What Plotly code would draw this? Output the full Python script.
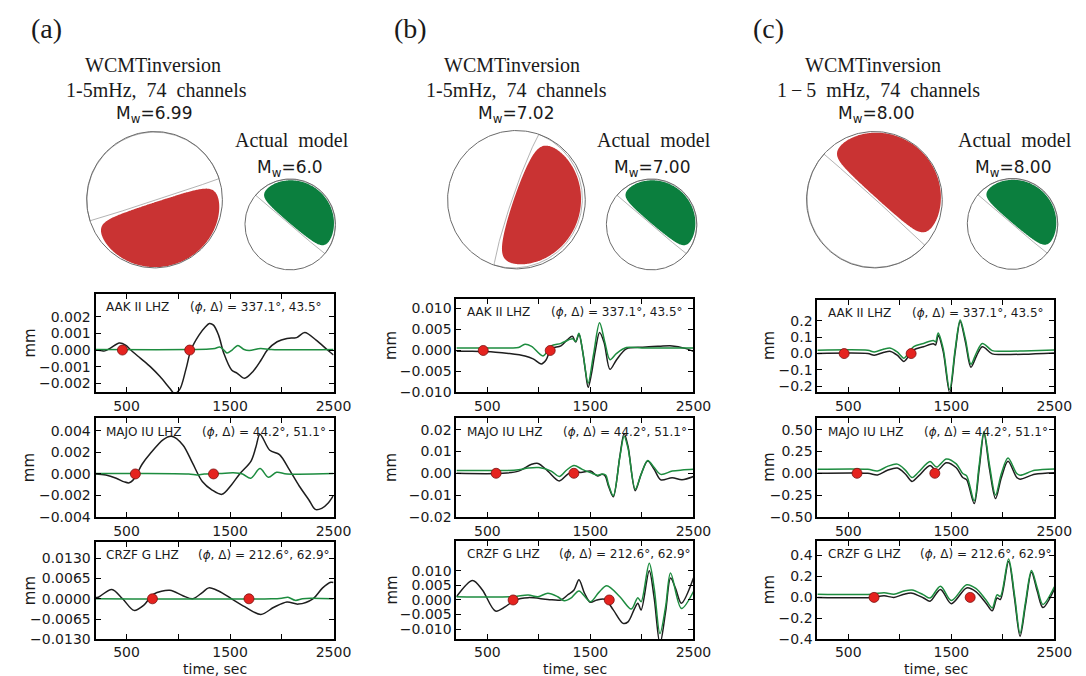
import numpy as np
import plotly.graph_objects as go

# ======================= DATA =======================
# time axis ticks
x_tickvals = [500, 1500, 2500]
x_minor_tickvals = [1000, 2000]

# stations (rows)
stations = ["AAK II LHZ", "MAJO IU LHZ", "CRZF G LHZ"]
azimuths = [337.1, 44.2, 212.6]
distances = [43.5, 51.1, 62.9]

# picks (red dots), per row
pick_times = [[460, 1110], [585, 1340], [750, 1683]]
pick_vals = [[0.0, 0.0], [0.0, 0.0], [0.0, 0.0]]

# ---- column (a) ----
t_a1_obs = [200, 250, 290, 340, 430, 490, 541, 635, 729, 823, 917, 960, 1011, 1074, 1122, 1200, 1263, 1300, 1340, 1389, 1440, 1515, 1570, 1641, 1720, 1800, 1861, 1955, 2050, 2144, 2222, 2332, 2442, 2500]
v_a1_obs = [0.0, -0.00003, -0.00005, 0.0001, 0.00042, 0.0003, 0.0, -0.0005, -0.001, -0.0016, -0.0023, -0.0026, -0.0024, -0.00115, 0.0, 0.0009, 0.0014, 0.0016, 0.0015, 0.0009, -0.0002, -0.0012, -0.0014, -0.0017, -0.0013, -0.0006, 0.0, 0.0005, 0.0007, 0.00075, 0.00105, 0.0006, 0.0, -0.0003]
t_a1_syn = [200, 1100, 1300, 1354, 1400, 1440, 1470, 1520, 1575, 1630, 1685, 1795, 1900, 2500]
v_a1_syn = [0.00003, 0.00003, 0.00006, 0.0001, 0.00018, 0.0, -0.00018, 0.0, 0.00028, 0.00005, -0.00003, 0.0001, 0.00003, 0.00003]

t_a2_obs = [200, 300, 400, 478, 525, 560, 600, 650, 729, 855, 934, 1044, 1138, 1232, 1327, 1421, 1515, 1593, 1703, 1750, 1789, 1884, 1978, 2073, 2167, 2261, 2324, 2386, 2449, 2500]
v_a2_obs = [0.0, -0.0001, -0.0004, -0.00074, -0.00083, -0.0006, 0.0, 0.0009, 0.0019, 0.0032, 0.0035, 0.0027, 0.001, -0.0007, -0.0015, -0.0019, -0.001, 0.0, 0.0012, 0.0025, 0.0037, 0.0022, 0.0018, 0.0004, -0.0011, -0.0024, -0.0033, -0.0032, -0.0027, -0.002]
t_a2_syn = [200, 1100, 1180, 1250, 1400, 1530, 1620, 1700, 1790, 1870, 1950, 2050, 2500]
v_a2_syn = [0.00003, 0.0, -0.0001, 0.0, 0.00003, 0.0001, 0.0, -0.0004, 0.0005, -0.0003, 0.00015, 0.0, 0.00003]

t_a3_obs = [200, 227, 358, 462, 572, 667, 761, 918, 1044, 1138, 1232, 1295, 1389, 1515, 1641, 1798, 1924, 2050, 2160, 2301, 2395, 2474, 2500]
v_a3_obs = [0.0003, 0.0005, 0.003, 0.0, -0.0037, -0.002, 0.0015, 0.0027, 0.001, 0.0, 0.002, 0.0035, 0.0025, 0.0, -0.0025, -0.005, -0.0027, -0.001, -0.0017, 0.0, 0.0035, 0.0053, 0.0052]
t_a3_syn = [200, 1900, 2000, 2060, 2130, 2200, 2280, 2500]
v_a3_syn = [0.0, 0.0, 0.0002, 0.0005, -0.0005, 0.0, 0.0002, 0.0]

# ---- column (b) ----
t_b1_obs = [200, 357, 579, 706, 865, 944, 1024, 1071, 1119, 1214, 1278, 1325, 1357, 1389, 1421, 1452, 1478, 1510, 1548, 1589, 1633, 1690, 1754, 1849, 2008, 2167, 2294, 2420, 2500]
v_b1_obs = [-0.0002, -0.0002, -0.0004, -0.0007, -0.0013, -0.002, -0.0032, -0.0022, 0.0004, 0.0011, 0.0026, 0.0034, 0.002, 0.0039, 0.0004, -0.0049, -0.0088, -0.0056, 0.0, 0.0043, 0.0019, -0.0045, -0.0022, 0.0004, 0.0008, 0.001, 0.0011, 0.0005, -0.0002]
t_b1_syn = [200, 706, 802, 865, 929, 1040, 1119, 1214, 1325, 1357, 1389, 1430, 1478, 1530, 1589, 1640, 1690, 1754, 1849, 2000, 2500]
v_b1_syn = [0.0006, 0.0006, 0.0007, 0.0015, 0.001, -0.0013, 0.0011, 0.0017, 0.0028, 0.0022, 0.0041, -0.001, -0.0078, -0.001, 0.0066, 0.002, -0.0022, -0.0007, 0.0007, 0.0006, 0.0006]

t_b2_obs = [200, 650, 802, 929, 992, 1087, 1198, 1278, 1341, 1405, 1500, 1570, 1611, 1643, 1675, 1722, 1786, 1827, 1865, 1935, 1992, 2056, 2119, 2183, 2294, 2389, 2500]
v_b2_obs = [0.0, 0.0, 0.001, 0.0041, 0.0045, 0.001, -0.0035, -0.0005, 0.001, 0.0003, 0.001, -0.0012, -0.0005, -0.0012, -0.0058, -0.0108, 0.0079, 0.0182, 0.0124, -0.008, -0.0005, 0.0056, 0.0018, -0.003, -0.002, -0.003, -0.0015]
t_b2_syn = [200, 700, 802, 897, 1000, 1120, 1198, 1270, 1341, 1421, 1500, 1570, 1620, 1650, 1675, 1722, 1786, 1827, 1865, 1935, 1992, 2056, 2119, 2183, 2294, 2389, 2500]
v_b2_syn = [0.0013, 0.0013, 0.0016, 0.0024, 0.0026, 0.001, -0.0015, 0.0015, 0.0036, 0.0018, 0.0003, -0.0009, -0.0003, -0.0009, -0.005, -0.0103, 0.0075, 0.017, 0.0115, -0.0073, -0.0005, 0.0059, 0.0026, -0.0005, 0.001, 0.0015, 0.0018]

t_b3_obs = [200, 357, 452, 579, 675, 770, 897, 1087, 1214, 1278, 1341, 1389, 1443, 1500, 1563, 1643, 1722, 1817, 1865, 1929, 1960, 1992, 2071, 2119, 2175, 2230, 2278, 2326, 2383, 2500]
v_b3_obs = [0.0011, 0.0067, 0.0034, -0.0038, -0.0023, 0.0, 0.0008, 0.0002, 0.0, 0.0017, 0.0034, 0.0069, 0.0023, -0.0008, 0.0, 0.0002, -0.0034, -0.008, -0.0075, -0.0029, -0.0011, -0.0034, 0.01, 0.0006, -0.015, -0.004, 0.0075, 0.004, -0.0011, 0.0075]
t_b3_syn = [200, 738, 897, 992, 1087, 1183, 1246, 1310, 1389, 1500, 1580, 1659, 1786, 1897, 1960, 1992, 2071, 2119, 2175, 2230, 2278, 2383, 2500]
v_b3_syn = [0.0011, 0.0011, 0.0017, 0.0011, 0.0023, 0.0011, -0.0003, 0.0006, 0.0031, -0.0006, 0.0025, 0.0049, 0.0011, -0.0031, 0.0008, -0.0006, 0.0126, 0.004, -0.0115, -0.0023, 0.0092, -0.0029, 0.0029]

# ---- column (c) ----
t_c1 = [200, 689, 752, 848, 911, 975, 1040, 1087, 1135, 1230, 1325, 1347, 1373, 1421, 1484, 1538, 1586, 1637, 1690, 1744, 1801, 1897, 1992, 2200, 2500]
v_c1_obs = [0.0, 0.0, -0.01, 0.008, 0.013, -0.01, -0.048, -0.015, 0.023, 0.042, 0.06, 0.052, 0.11, 0.013, -0.24, 0.013, 0.196, 0.07, -0.083, -0.015, 0.042, -0.002, -0.006, -0.004, 0.004]
v_c1_syn = [0.02, 0.02, 0.01, 0.028, 0.033, 0.01, -0.028, 0.005, 0.043, 0.062, 0.08, 0.072, 0.125, 0.03, -0.22, 0.03, 0.205, 0.088, -0.065, 0.005, 0.062, 0.018, 0.014, 0.016, 0.022]

t_c2 = [200, 689, 784, 880, 976, 1056, 1119, 1183, 1294, 1357, 1452, 1548, 1611, 1649, 1722, 1770, 1817, 1871, 1929, 1986, 2050, 2135, 2167, 2310, 2500]
v_c2_obs = [0.0, 0.0, -0.019, 0.034, 0.06, -0.011, -0.093, -0.03, 0.09, 0.026, 0.12, 0.063, -0.048, -0.075, -0.347, 0.045, 0.455, 0.045, -0.29, -0.048, 0.138, -0.048, -0.067, -0.011, 0.007]
v_c2_syn = [0.045, 0.045, 0.026, 0.079, 0.105, 0.034, -0.048, 0.015, 0.135, 0.071, 0.165, 0.108, -0.003, -0.03, -0.315, 0.09, 0.48, 0.09, -0.25, -0.003, 0.175, -0.003, -0.022, 0.034, 0.05]

t_c3 = [200, 722, 848, 943, 1040, 1119, 1230, 1294, 1395, 1500, 1649, 1738, 1833, 1897, 1944, 1976, 2056, 2113, 2167, 2221, 2278, 2335, 2389, 2500]
v_c3_obs = [0.0, 0.0, 0.015, 0.0, 0.03, 0.04, -0.006, -0.036, 0.076, -0.06, 0.09, 0.055, -0.05, -0.127, -0.006, -0.02, 0.342, -0.006, -0.37, -0.067, 0.24, 0.055, -0.097, 0.079]
v_c3_syn = [0.03, 0.03, 0.045, 0.03, 0.06, 0.07, 0.024, -0.006, 0.106, -0.03, 0.12, 0.085, -0.02, -0.1, 0.024, 0.01, 0.364, 0.024, -0.34, -0.037, 0.255, 0.085, -0.067, 0.1]

# y-axis ranges, ticks, formats  [row][col]
y_ranges = [[[-0.00255, 0.0034], [-0.010, 0.0124], [-0.237, 0.33]],
            [[-0.004, 0.0052], [-0.02, 0.0253], [-0.5, 0.633]],
            [[-0.013, 0.0183], [-0.0135, 0.0203], [-0.4, 0.54]]]
y_ticks = [[[-0.002, -0.001, 0, 0.001, 0.002], [-0.01, -0.005, 0, 0.005, 0.01], [-0.2, -0.1, 0, 0.1, 0.2]],
           [[-0.004, -0.002, 0, 0.002, 0.004], [-0.02, -0.01, 0, 0.01, 0.02], [-0.5, -0.25, 0, 0.25, 0.5]],
           [[-0.013, -0.0065, 0, 0.0065, 0.013], [-0.01, -0.005, 0, 0.005, 0.01], [-0.4, -0.2, 0, 0.2, 0.4]]]
y_formats = [[".3f", ".3f", ".1f"], [".3f", ".2f", ".2f"], [".4f", ".3f", ".1f"]]

# inversion results (top)
NB2 = "\u00a0\u00a0"
panel_labels = ["(a)", "(b)", "(c)"]
inv_band = [f"1-5mHz,{NB2}74{NB2}channels", f"1-5mHz,{NB2}74{NB2}channels",
            f"1\u2009\u2212\u20095{NB2}mHz,{NB2}74{NB2}channels"]
mw_inv = ["6.99", "7.02", "8.00"]
mw_act = ["6.0", "7.00", "8.00"]
# focal mechanisms (strike, dip, rake)
mech_inv = [(72, 89, -90), (199, 85, 90), (312, 89, -90)]
mech_act = [(130, 89, 90), (130, 89, 90), (130, 89, 90)]

# ======================= LAYOUT CONSTANTS =======================
W, H = 1086, 676
COL_X = [(89, 331), (456, 697), (823, 1064)]
ROW_Y = [[(289, 389), (294, 389), (295, 389)],
         [(415, 515), (415, 515), (415, 515)],
         [(540, 639), (539, 639), (539, 639)]]
BIG_BALL = [(149, 194, 69), (517, 194, 70), (881, 194, 69)]
SMALL_BALL = [(287, 219, 46), (654.5, 219, 46), (1021.5, 218.5, 46)]
LABEL_POS = [(39, 21), (409, 21), (773, 21)]
TITLE_X = [(147, 151, 149), (513, 517, 517), (880, 885, 883)]
ACT_X = [(289, 287), (657, 655), (1024, 1022)]
MM_X = [22, 390, 774]
PHI_OFF = [94, 106, 102]

RED = "#c93333"
GREEN_FILL = "#0b7f3e"
BLACK_LINE = "#1e1e1e"
GREEN_LINE = "#1d8c3f"
DOT = "#e5231f"
SERIF = "Liberation Serif"
SANS = "DejaVu Sans"
TXT = "#1a1a1a"

obs = {(0, 0): (t_a1_obs, v_a1_obs), (1, 0): (t_a2_obs, v_a2_obs), (2, 0): (t_a3_obs, v_a3_obs),
       (0, 1): (t_b1_obs, v_b1_obs), (1, 1): (t_b2_obs, v_b2_obs), (2, 1): (t_b3_obs, v_b3_obs),
       (0, 2): (t_c1, v_c1_obs), (1, 2): (t_c2, v_c2_obs), (2, 2): (t_c3, v_c3_obs)}
syn = {(0, 0): (t_a1_syn, v_a1_syn), (1, 0): (t_a2_syn, v_a2_syn), (2, 0): (t_a3_syn, v_a3_syn),
       (0, 1): (t_b1_syn, v_b1_syn), (1, 1): (t_b2_syn, v_b2_syn), (2, 1): (t_b3_syn, v_b3_syn),
       (0, 2): (t_c1, v_c1_syn), (1, 2): (t_c2, v_c2_syn), (2, 2): (t_c3, v_c3_syn)}


def dom_x(x0, x1):
    return [x0 / W, x1 / W]


def dom_y(y0, y1):
    return [1 - y1 / H, 1 - y0 / H]


def ax_names(k):
    return ("xaxis" if k == 1 else f"xaxis{k}", "yaxis" if k == 1 else f"yaxis{k}",
            "x" if k == 1 else f"x{k}", "y" if k == 1 else f"y{k}")


fig = go.Figure()
layout = dict(width=W, height=H, margin=dict(l=0, r=0, t=0, b=0),
              paper_bgcolor="white", plot_bgcolor="white", showlegend=False)
annotations = []

# ---------------- waveform panels ----------------
k = 0
for c in range(3):
    for r in range(3):
        k += 1
        xa, ya, xr, yr = ax_names(k)
        x0, x1 = COL_X[c]
        y0, y1 = ROW_Y[r][c]
        axis_common = dict(showline=True, linewidth=2, linecolor="black", mirror="ticks",
                           ticks="inside", ticklen=5, tickwidth=1, tickcolor="black",
                           showgrid=False, zeroline=False,
                           tickfont=dict(family=SANS, size=14, color=TXT))
        layout[xa] = dict(domain=dom_x(x0, x1), range=[200, 2500], anchor=yr,
                          tickvals=x_tickvals, tickformat="d",
                          minor=dict(tickvals=x_minor_tickvals, ticks="inside", ticklen=5,
                                     tickwidth=1, tickcolor="black", showgrid=False),
                          ticklabelstandoff=(-1 if r == 2 else 0), **axis_common)
        layout[ya] = dict(domain=dom_y(y0, y1), range=y_ranges[r][c], anchor=xr,
                          tickvals=y_ticks[r][c], tickformat=y_formats[r][c], **axis_common)
        t, v = obs[(r, c)]
        fig.add_trace(go.Scatter(x=t, y=v, mode="lines", xaxis=xr, yaxis=yr,
                                 line=dict(color=BLACK_LINE, width=1.5, shape="spline", smoothing=0.9),
                                 hoverinfo="skip"))
        t, v = syn[(r, c)]
        fig.add_trace(go.Scatter(x=t, y=v, mode="lines", xaxis=xr, yaxis=yr,
                                 line=dict(color=GREEN_LINE, width=1.5, shape="spline", smoothing=0.9),
                                 hoverinfo="skip"))
        fig.add_trace(go.Scatter(x=pick_times[r], y=pick_vals[r], mode="markers", xaxis=xr, yaxis=yr,
                                 marker=dict(color=DOT, size=10, line=dict(color="#7a1010", width=0.8)),
                                 cliponaxis=False, hoverinfo="skip"))
        # station label and angles
        annotations.append(dict(text=stations[r], xref=f"{xr} domain", yref=f"{yr} domain",
                                x=9 / (x1 - x0), y=1 - 14 / (y1 - y0), xanchor="left", yanchor="middle",
                                showarrow=False, font=dict(family=SANS, size=12, color=TXT)))
        annotations.append(dict(text=f"(<i>\u03d5</i>, \u0394) = {azimuths[r]:.1f}\u00b0, {distances[r]:.1f}\u00b0",
                                xref=f"{xr} domain", yref=f"{yr} domain",
                                x=PHI_OFF[r] / (x1 - x0), y=1 - 14 / (y1 - y0), xanchor="left", yanchor="middle",
                                showarrow=False, font=dict(family=SANS, size=12, color=TXT)))
        annotations.append(dict(text="mm", xref="paper", yref="paper", x=MM_X[c] / W,
                                y=1 - (y0 + y1) / 2 / H, textangle=-90, xanchor="center", yanchor="middle",
                                showarrow=False, font=dict(family=SANS, size=15, color=TXT)))
        if r == 2:
            annotations.append(dict(text="time, sec", xref="paper", yref="paper", x=(x0 + x1) / 2 / W,
                                    y=0, xanchor="center", yanchor="bottom", yshift=-2, borderpad=0,
                                    showarrow=False, font=dict(family=SANS, size=14, color=TXT)))


# ---------------- beachballs ----------------
def mech_vectors(strike, dip, rake):
    phi, delta, lam = np.radians([strike, dip, rake])
    n = np.array([-np.sin(delta) * np.sin(phi), np.sin(delta) * np.cos(phi), -np.cos(delta)])
    d = np.array([np.cos(lam) * np.cos(phi) + np.cos(delta) * np.sin(lam) * np.sin(phi),
                  np.cos(lam) * np.sin(phi) - np.cos(delta) * np.sin(lam) * np.cos(phi),
                  -np.sin(lam) * np.sin(delta)])
    return n, d


def radiation_grid(strike, dip, rake, npts=161):
    s = np.linspace(-1, 1, npts)
    X, Y = np.meshgrid(s, s)
    R = np.sqrt(X ** 2 + Y ** 2)
    inc = 2 * np.arcsin(np.clip(R, 0, 1) / np.sqrt(2))
    az = np.arctan2(X, Y)
    g = np.stack([np.sin(inc) * np.cos(az), np.sin(inc) * np.sin(az), np.cos(inc)])
    n, d = mech_vectors(strike, dip, rake)
    A = np.tensordot(n, g, 1) * np.tensordot(d, g, 1)
    A = np.where(R <= 1, A, -1.0)
    return s, A


def nodal_line(v):
    h = np.array([-v[1], v[0], 0.0])
    if np.linalg.norm(h) < 1e-6:
        return None
    h /= np.linalg.norm(h)
    u2 = np.cross(v, h)
    u2 /= np.linalg.norm(u2)
    if u2[2] < 0:
        u2 = -u2
    t = np.linspace(0, np.pi, 181)
    g = np.outer(np.cos(t), h) + np.outer(np.sin(t), u2)
    inc = np.arccos(np.clip(g[:, 2], -1, 1))
    az = np.arctan2(g[:, 1], g[:, 0])
    rr = np.sqrt(2) * np.sin(inc / 2)
    return rr * np.sin(az), rr * np.cos(az)


EPS = 0.035
PAD = 1.04
theta = np.linspace(0, 2 * np.pi, 241)
balls = []
for c in range(3):
    balls.append((BIG_BALL[c], mech_inv[c], RED))
    balls.append((SMALL_BALL[c], mech_act[c], GREEN_FILL))

for (cx, cy, rad), mech, col in balls:
    k += 1
    xa, ya, xr, yr = ax_names(k)
    half = rad * PAD
    layout[xa] = dict(domain=dom_x(cx - half, cx + half), range=[-PAD, PAD], visible=False,
                      anchor=yr, fixedrange=True)
    layout[ya] = dict(domain=dom_y(cy - half, cy + half), range=[-PAD, PAD], visible=False,
                      anchor=xr, fixedrange=True)
    s, A = radiation_grid(*mech)
    # plotly shades the side outside the kept constraint region; '<' therefore shades A > EPS
    fig.add_trace(go.Contour(x=s, y=s, z=A, xaxis=xr, yaxis=yr, showscale=False, hoverinfo="skip",
                             contours=dict(type="constraint", operation="<", value=EPS),
                             fillcolor=col, line=dict(color=col, width=0, smoothing=1.3)))
    n, d = mech_vectors(*mech)
    for v in (n, d):
        res = nodal_line(v)
        if res is not None:
            fig.add_trace(go.Scatter(x=res[0], y=res[1], mode="lines", xaxis=xr, yaxis=yr,
                                     line=dict(color="#a0a0a0", width=0.8), hoverinfo="skip"))
    fig.add_trace(go.Scatter(x=np.cos(theta), y=np.sin(theta), mode="lines", xaxis=xr, yaxis=yr,
                             line=dict(color="#6a6a6a", width=1), hoverinfo="skip"))

# ---------------- top texts ----------------
for c in range(3):
    lx, ly = LABEL_POS[c]
    annotations.append(dict(text=panel_labels[c], xref="paper", yref="paper", x=lx / W, y=1 - ly / H,
                            xanchor="center", yanchor="middle", showarrow=False,
                            font=dict(family=SERIF, size=28, color=TXT)))
    tx1, tx2, tx3 = TITLE_X[c]
    annotations.append(dict(text="WCMTinversion", xref="paper", yref="paper", x=tx1 / W, y=1 - 58 / H,
                            xanchor="center", yanchor="middle", showarrow=False,
                            font=dict(family=SERIF, size=20, color=TXT)))
    annotations.append(dict(text=inv_band[c], xref="paper", yref="paper", x=tx2 / W, y=1 - 83 / H,
                            xanchor="center", yanchor="middle", showarrow=False,
                            font=dict(family=SERIF, size=20, color=TXT)))
    annotations.append(dict(text=f"M<sub>w</sub>={mw_inv[c]}", xref="paper", yref="paper", x=tx3 / W,
                            y=1 - 108 / H, xanchor="center", yanchor="middle", showarrow=False,
                            font=dict(family=SANS, size=17, color=TXT)))
    ax1, ax2 = ACT_X[c]
    annotations.append(dict(text=f"Actual{NB2}model", xref="paper", yref="paper", x=ax1 / W, y=1 - 134 / H,
                            xanchor="center", yanchor="middle", showarrow=False,
                            font=dict(family=SERIF, size=20, color=TXT)))
    annotations.append(dict(text=f"M<sub>w</sub>={mw_act[c]}", xref="paper", yref="paper", x=ax2 / W,
                            y=1 - 162 / H, xanchor="center", yanchor="middle", showarrow=False,
                            font=dict(family=SANS, size=17, color=TXT)))

layout["annotations"] = annotations
fig.update_layout(**layout)
fig.write_html("out.html")
